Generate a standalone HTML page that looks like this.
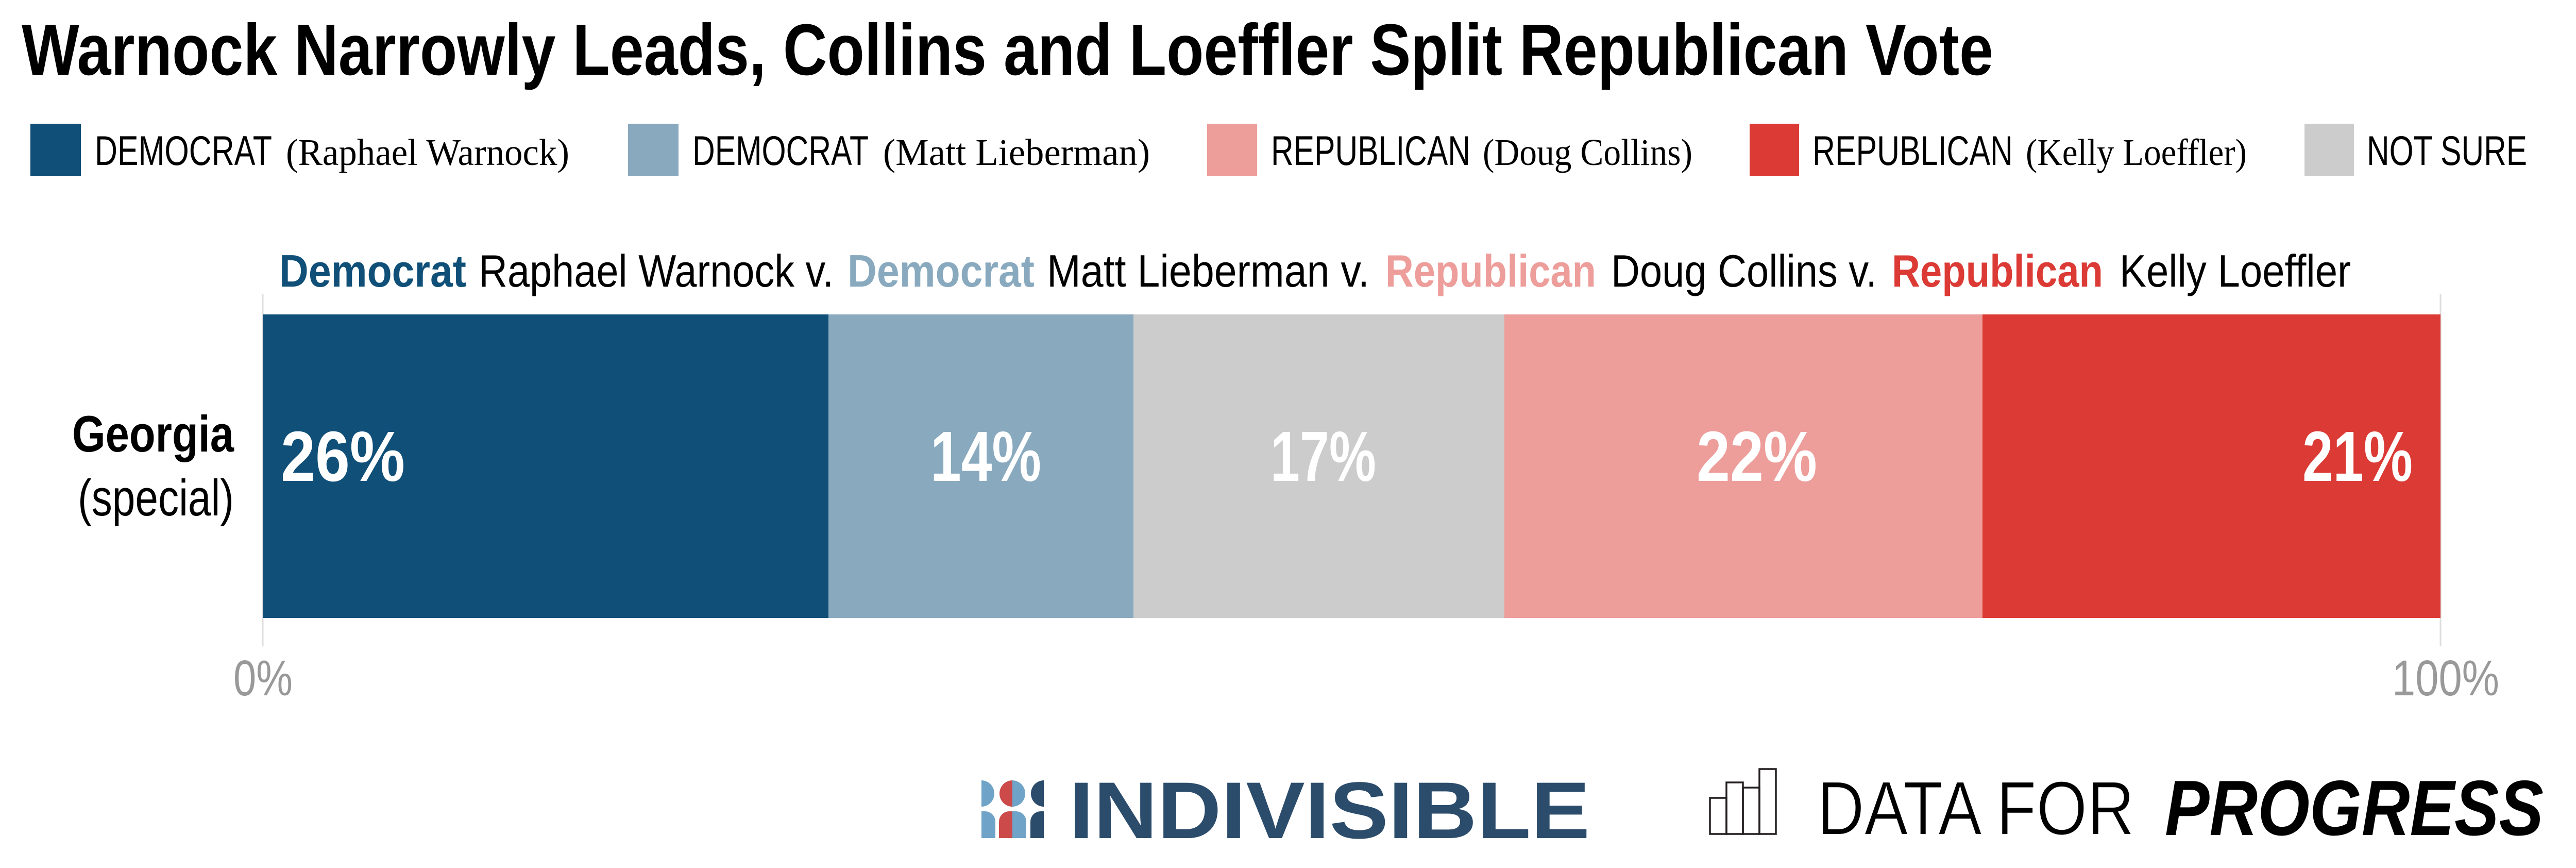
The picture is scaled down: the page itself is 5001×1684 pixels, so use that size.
<!DOCTYPE html>
<html>
<head>
<meta charset="utf-8">
<style>
  html, body { margin:0; padding:0; background:#ffffff; }
  body { width:5001px; height:1684px; overflow:hidden; }
  svg { display:block; }
  text { font-family: "Liberation Sans", "DejaVu Sans", sans-serif; }
  .serif { font-family: "Liberation Serif", "DejaVu Serif", serif; }
</style>
</head>
<body>
<svg width="5001" height="1684" viewBox="0 0 5001 1684" xmlns="http://www.w3.org/2000/svg">
  <rect x="0" y="0" width="5001" height="1684" fill="#ffffff"/>

  <!-- Title -->
  <text x="42" y="145" font-size="141" font-weight="bold" fill="#000" textLength="3827" lengthAdjust="spacingAndGlyphs">Warnock Narrowly Leads, Collins and Loeffler Split Republican Vote</text>

  <!-- Legend -->
  <rect x="59" y="240" width="98" height="101" fill="#0F4F78"/>
  <text x="184" y="320" font-size="81" fill="#000" textLength="344" lengthAdjust="spacingAndGlyphs">DEMOCRAT</text>
  <text class="serif" x="555" y="320" font-size="73" fill="#000" textLength="550" lengthAdjust="spacingAndGlyphs">(Raphael Warnock)</text>

  <rect x="1219" y="240" width="98" height="101" fill="#89A9BE"/>
  <text x="1344" y="320" font-size="81" fill="#000" textLength="342" lengthAdjust="spacingAndGlyphs">DEMOCRAT</text>
  <text class="serif" x="1714" y="320" font-size="73" fill="#000" textLength="518" lengthAdjust="spacingAndGlyphs">(Matt Lieberman)</text>

  <rect x="2343" y="240" width="97" height="101" fill="#ED9D9A"/>
  <text x="2467" y="320" font-size="81" fill="#000" textLength="387" lengthAdjust="spacingAndGlyphs">REPUBLICAN</text>
  <text class="serif" x="2878" y="320" font-size="73" fill="#000" textLength="407" lengthAdjust="spacingAndGlyphs">(Doug Collins)</text>

  <rect x="3396" y="240" width="96" height="101" fill="#DB3A35"/>
  <text x="3518" y="320" font-size="81" fill="#000" textLength="389" lengthAdjust="spacingAndGlyphs">REPUBLICAN</text>
  <text class="serif" x="3932" y="320" font-size="73" fill="#000" textLength="429" lengthAdjust="spacingAndGlyphs">(Kelly Loeffler)</text>

  <rect x="4473" y="240" width="96" height="101" fill="#CCCCCC"/>
  <text x="4594" y="320" font-size="81" fill="#000" textLength="311" lengthAdjust="spacingAndGlyphs">NOT SURE</text>

  <!-- Subtitle -->
  <text x="542" y="556" font-size="88" font-weight="bold" fill="#0F4F78" textLength="363" lengthAdjust="spacingAndGlyphs">Democrat</text>
  <text x="929" y="556" font-size="88" fill="#000" textLength="689" lengthAdjust="spacingAndGlyphs">Raphael Warnock v.</text>
  <text x="1645" y="556" font-size="88" font-weight="bold" fill="#89A9BE" textLength="363" lengthAdjust="spacingAndGlyphs">Democrat</text>
  <text x="2032" y="556" font-size="88" fill="#000" textLength="626" lengthAdjust="spacingAndGlyphs">Matt Lieberman v.</text>
  <text x="2689" y="556" font-size="88" font-weight="bold" fill="#ED9D9A" textLength="409" lengthAdjust="spacingAndGlyphs">Republican</text>
  <text x="3127" y="556" font-size="88" fill="#000" textLength="516" lengthAdjust="spacingAndGlyphs">Doug Collins v.</text>
  <text x="3672" y="556" font-size="88" font-weight="bold" fill="#DB3A35" textLength="410" lengthAdjust="spacingAndGlyphs">Republican</text>
  <text x="4114" y="556" font-size="88" fill="#000" textLength="449" lengthAdjust="spacingAndGlyphs">Kelly Loeffler</text>

  <!-- Axis lines -->
  <line x1="510" y1="571" x2="510" y2="1254" stroke="#DDDDDD" stroke-width="3"/>
  <line x1="4737" y1="571" x2="4737" y2="1254" stroke="#DDDDDD" stroke-width="3"/>

  <!-- Bars -->
  <rect x="510" y="610" width="1098" height="589" fill="#0F4F78"/>
  <rect x="1608" y="610" width="592" height="589" fill="#89A9BE"/>
  <rect x="2200" y="610" width="720" height="589" fill="#CCCCCC"/>
  <rect x="2920" y="610" width="928" height="589" fill="#ED9D9A"/>
  <rect x="3848" y="610" width="889" height="589" fill="#DB3A35"/>

  <!-- Bar labels -->
  <text x="545" y="933" font-size="138" font-weight="bold" fill="#fff" textLength="241" lengthAdjust="spacingAndGlyphs">26%</text>
  <text x="1806" y="933" font-size="138" font-weight="bold" fill="#fff" textLength="215" lengthAdjust="spacingAndGlyphs">14%</text>
  <text x="2466" y="933" font-size="138" font-weight="bold" fill="#fff" textLength="205" lengthAdjust="spacingAndGlyphs">17%</text>
  <text x="3293" y="933" font-size="138" font-weight="bold" fill="#fff" textLength="234" lengthAdjust="spacingAndGlyphs">22%</text>
  <text x="4469" y="933" font-size="138" font-weight="bold" fill="#fff" textLength="214" lengthAdjust="spacingAndGlyphs">21%</text>

  <!-- Row label -->
  <text x="140" y="876" font-size="99" font-weight="bold" fill="#000" textLength="314" lengthAdjust="spacingAndGlyphs">Georgia</text>
  <text x="151" y="1000" font-size="99" fill="#000" textLength="303" lengthAdjust="spacingAndGlyphs">(special)</text>

  <!-- Axis tick labels -->
  <text x="453" y="1349" font-size="97" fill="#999999" textLength="115" lengthAdjust="spacingAndGlyphs">0%</text>
  <text x="4643" y="1349" font-size="97" fill="#999999" textLength="208" lengthAdjust="spacingAndGlyphs">100%</text>

  <!-- INDIVISIBLE logo -->
  <g>
    <!-- left column -->
    <path d="M1905,1514 A25,25.5 0 0 1 1905,1565 Z" fill="#6FA3C8"/>
    <path d="M1905,1626 V1574 H1912 A20,20 0 0 1 1932,1594 V1626 Z" fill="#6FA3C8"/>
    <!-- middle column -->
    <path d="M1965,1514 A25,25.5 0 0 0 1965,1565 Z" fill="#CC4A4A"/>
    <path d="M1965,1514 A25,25.5 0 0 1 1965,1565 Z" fill="#6FA3C8"/>
    <path d="M1939,1626 V1594 A20,20 0 0 1 1959,1574 H1965 V1626 Z" fill="#CC4A4A"/>
    <path d="M1965,1626 V1574 H1972 A20,20 0 0 1 1992,1594 V1626 Z" fill="#6FA3C8"/>
    <!-- right column -->
    <path d="M2026,1514 A25,25.5 0 0 0 2026,1565 Z" fill="#2C4C6B"/>
    <path d="M2000,1626 V1594 A20,20 0 0 1 2020,1574 H2026 V1626 Z" fill="#2C4C6B"/>
  </g>
  <text x="2075" y="1626" font-size="156" font-weight="bold" fill="#2C4C6B" textLength="1011" lengthAdjust="spacingAndGlyphs">INDIVISIBLE</text>

  <!-- DATA FOR PROGRESS logo -->
  <g fill="none" stroke="#231F20" stroke-width="3.5">
    <rect x="3319" y="1548" width="32" height="70"/>
    <rect x="3351" y="1518" width="32" height="100"/>
    <rect x="3383" y="1528" width="32" height="90"/>
    <rect x="3415" y="1492" width="32" height="126"/>
  </g>
  <text x="3527" y="1619" font-size="148" fill="#000" stroke="#fff" stroke-width="2" paint-order="normal" textLength="616" lengthAdjust="spacingAndGlyphs">DATA FOR</text>
  <text x="4202" y="1620" font-size="152" font-weight="bold" font-style="italic" fill="#000" textLength="735" lengthAdjust="spacingAndGlyphs">PROGRESS</text>
</svg>
</body>
</html>
